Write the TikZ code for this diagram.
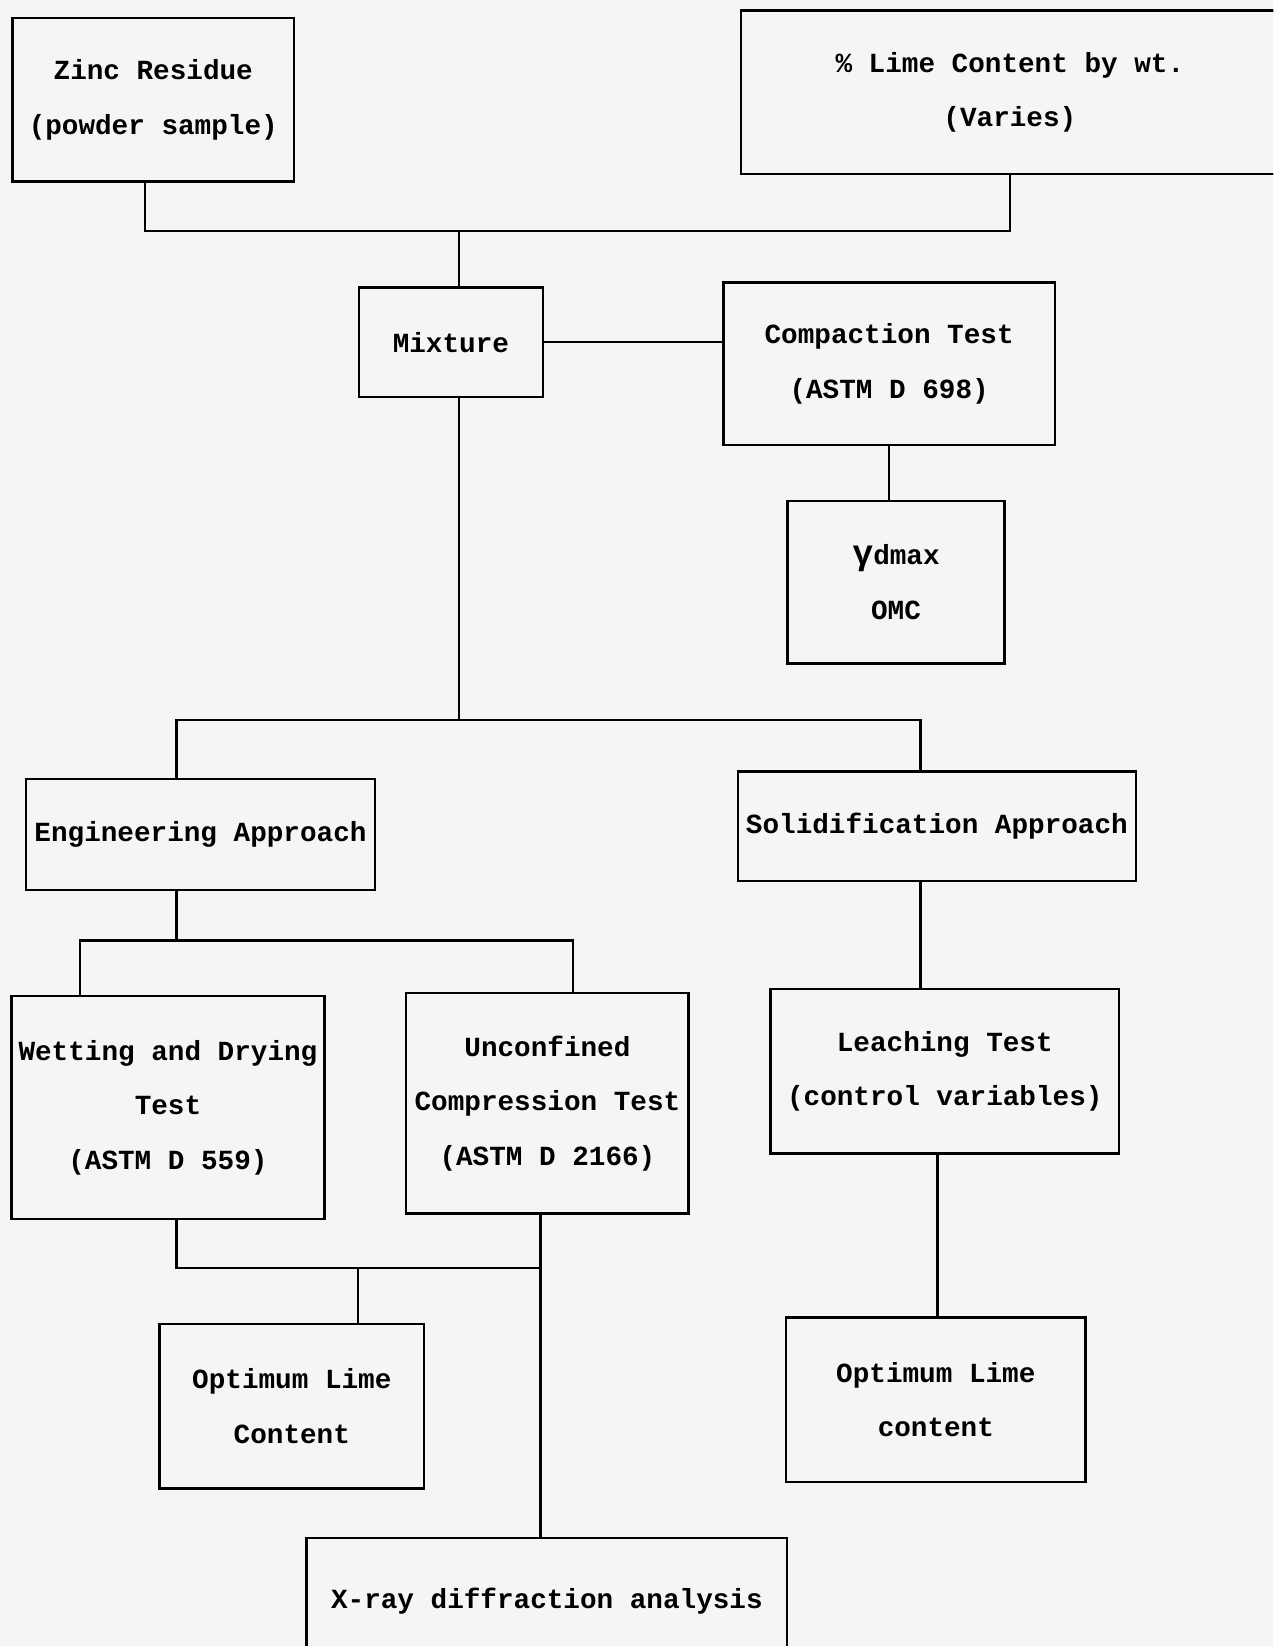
\documentclass[tikz,border=0pt]{standalone}
\usepackage{fontspec}
\setmonofont{Liberation Mono}
\begin{document}
\begin{tikzpicture}[x=0.02cm, y=-0.02cm, line width=1.3pt,
    box/.style={draw, rectangle, inner sep=0pt, align=center,
        font=\ttfamily\bfseries\fontsize{15}{29.5}\selectfont}]
    \useasboundingbox (0,0) rectangle (1213,1568);
    \fill[black!4] (0,0) rectangle (1213,1568);
    \clip (0,0) rectangle (1213,1568);

    \node[box, minimum width=5.36cm, minimum height=3.12cm] (zinc) at (146,95) {Zinc Residue\\(powder sample)};
    \node[box, minimum width=10.24cm, minimum height=3.12cm] (lime) at (962,88) {\% Lime Content by wt.\\(Varies)};
    \node[box, minimum width=3.5cm, minimum height=2.08cm] (mix) at (429.5,326) {Mixture};
    \node[box, minimum width=6.32cm, minimum height=3.1cm] (compact) at (847,346.5) {Compaction Test\\(ASTM D 698)};
    \node[box, minimum width=4.14cm, minimum height=3.1cm] (gamma) at (853.5,554.5) {{\fontsize{19}{20}\selectfont γ}dmax\\OMC};
    \node[box, minimum width=6.64cm, minimum height=2.12cm] (eng) at (191,795) {Engineering Approach};
    \node[box, minimum width=7.58cm, minimum height=2.08cm] (sol) at (892.5,787) {Solidification Approach};
    \node[box, minimum width=5.96cm, minimum height=4.24cm] (wet) at (160,1055) {Wetting and Drying\\Test\\(ASTM D 559)};
    \node[box, minimum width=5.38cm, minimum height=4.2cm] (ucs) at (521.5,1051) {Unconfined\\Compression Test\\(ASTM D 2166)};
    \node[box, minimum width=6.64cm, minimum height=3.14cm] (leach) at (900,1020.5) {Leaching Test\\(control variables)};
    \node[box, minimum width=5.04cm, minimum height=3.14cm] (optL) at (278,1339.5) {Optimum Lime\\Content};
    \node[box, minimum width=5.7cm, minimum height=3.14cm] (optR) at (891.5,1333.5) {Optimum Lime\\content};
    \node[box, minimum width=9.16cm, minimum height=2.4cm] (xrd) at (521,1525) {X-ray diffraction analysis};

    \coordinate (jtop) at (437,220);
    \coordinate (jmix) at (437,686);
    \coordinate (jeng) at (168,686);
    \coordinate (jsol) at (877,686);
    \coordinate (jtest) at (168,896);
    \coordinate (jwet) at (76,896);
    \coordinate (jucs) at (546,896);
    \coordinate (jlow) at (168,1208);
    \coordinate (jxrd) at (515,1208);
    \coordinate (jopt) at (341,1208);

    \draw (zinc.south -| 138,0) |- (jtop) -| (lime.south);
    \draw (jtop) -- (jtop |- mix.north);
    \draw (mix.east) -- (mix.east -| compact.west);
    \draw (compact.south) -- (compact.south |- gamma.north);
    \draw (jmix |- mix.south) -- (jmix);
    \draw (jeng |- eng.north) -- (jeng) -- (jsol) -- (jsol |- sol.north);
    \draw (jtest |- eng.south) -- (jtest);
    \draw (jwet |- wet.north) -- (jwet) -- (jucs) -- (jucs |- ucs.north);
    \draw (sol.south -| jsol) -- (leach.north -| jsol);
    \draw (leach.south -| 893,0) -- (optR.north -| 893,0);
    \draw (jlow |- wet.south) -- (jlow) -- (jxrd);
    \draw (jxrd |- ucs.south) -- (jxrd |- xrd.north);
    \draw (jopt) -- (jopt |- optL.north);
\end{tikzpicture}
\end{document}
